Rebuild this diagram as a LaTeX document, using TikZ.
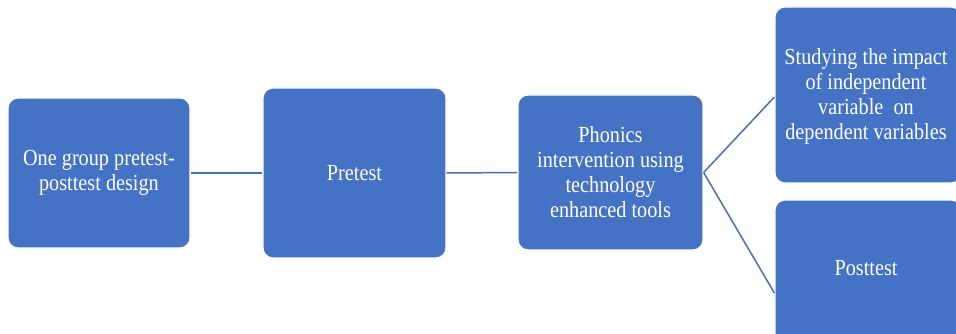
\documentclass[tikz,border=0pt]{standalone}
\usepackage{fontspec}
\setmainfont{Liberation Serif}[FakeStretch=0.88]
\definecolor{boxblue}{HTML}{4472C4}
\definecolor{lineblue}{HTML}{4A6FB5}
\begin{document}
\begin{tikzpicture}[x=1pt,y=-1pt,
  bluebox/.style={fill=boxblue, draw=white, line width=1.2pt, rounded corners=10pt, text=white, align=center, font=\fontsize{23}{25}\selectfont, inner sep=0pt},
  boxtext/.style={text=white, align=center, font=\fontsize{23}{25}\selectfont, inner sep=0pt},
  conn/.style={draw=lineblue, line width=1.5pt}]
\useasboundingbox (0,0) rectangle (956,334);
\clip (0,0) rectangle (956,334);
\fill[white] (0,0) rectangle (956,334);
\node[bluebox, minimum width=182pt, minimum height=150pt] (a) at (99,173) {One group pretest-\\posttest design};
\node[bluebox, minimum width=183pt, minimum height=170pt] (b) at (354.5,173) {Pretest};
\node[bluebox, minimum width=185pt, minimum height=155pt] (c) at (610.5,172.5) {Phonics\\intervention using\\technology\\enhanced tools};
\node[bluebox, minimum width=186pt, minimum height=176pt] (d) at (868,95) {};
\node[boxtext] (dtext) at (866,96) {Studying the impact\\of independent\\variable\ \ on\\dependent variables};
\node[bluebox, minimum width=186pt, minimum height=160pt] (e) at (868,280) {};
\node[boxtext] (etext) at (866,268) {Posttest};
\draw[conn] (a.east) -- (b.west);
\draw[conn] (b.east) -- (c.west);
\draw[conn] (c.east) -- ([yshift=-2pt]d.west);
\draw[conn] (c.east) -- ([yshift=-13pt]e.west);
\end{tikzpicture}
\end{document}
